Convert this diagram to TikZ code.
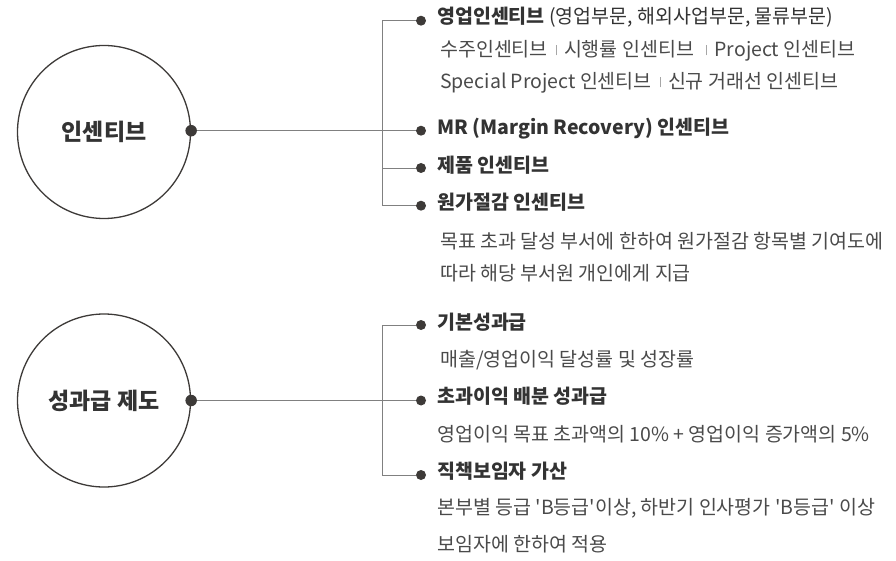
\documentclass[tikz,border=0pt]{standalone}
\usepackage{fontspec}
\setmainfont{Noto Sans CJK KR}
\newfontfamily\subfont{Noto Sans CJK KR}
\definecolor{ink}{HTML}{333333}
\definecolor{subink}{HTML}{4A4A4A}
\definecolor{linegray}{HTML}{808080}
\definecolor{dotgray}{HTML}{3D3A38}
\newcommand{\sepbar}{\hspace{0.4em}{\color{linegray!70}\rule[0.05em]{0.6pt}{0.55em}}\hspace{0.4em}}
\begin{document}
\begin{tikzpicture}[x=1pt,y=-1pt,
  bigcirc/.style={circle,draw=dotgray,line width=1.3pt,minimum size=173pt,inner sep=0pt,
     font=\fontsize{23}{23}\selectfont\bfseries,text=ink},
  head/.style={anchor=west,inner sep=0pt,font=\fontsize{19.5}{19.5}\selectfont\bfseries,text=ink,
     text height=0.8em,text depth=0.15em},
  sub/.style={anchor=west,inner sep=0pt,font=\subfont\fontsize{19.5}{19.5}\selectfont,text=subink,
     text height=0.8em,text depth=0.15em},
  conn/.style={draw=linegray,line width=0.9pt},
  bul/.style={circle,fill=dotgray,inner sep=0pt,minimum size=10pt},
  bigdot/.style={circle,fill=dotgray,inner sep=0pt,minimum size=11.5pt}]
\useasboundingbox (0,0) rectangle (896,561);

% ---------- top group ----------
\node[bigcirc] (c1) at (104,132) {인센티브};
\node[bigdot] (d1) at (c1.east |- 0,130.7) {};
\coordinate (v1t) at (382,20.7);
\coordinate (v1b) at (382,205.7);
\node[bul] (b11) at (421,20.7) {};
\node[bul] (b12) at (421,130.7) {};
\node[bul] (b13) at (421,168) {};
\node[bul] (b14) at (421,205.7) {};
\draw[conn] (b11) -- (v1t) -- (v1b) -- (b14);
\draw[conn] (d1) -- (b12);
\draw[conn] (b13) -- (b13 -| v1t);

\node[head] (h11) at (437,20.5) {영업인센티브 {\mdseries(영업부문, 해외사업부문, 물류부문)}};
\node[sub] (s11) at (440,53) {수주인센티브\sepbar 시행률 인센티브 \sepbar Project 인센티브};
\node[sub] (s12) at (440,85) {Special Project 인센티브\sepbar 신규 거래선 인센티브};
\node[head] (h12) at (437,131) {MR (Margin Recovery) 인센티브};
\node[head] (h13) at (437,169) {제품 인센티브};
\node[head] (h14) at (437,206.5) {원가절감 인센티브};
\node[sub] (s14) at (440,245) {목표 초과 달성 부서에 한하여 원가절감 항목별 기여도에};
\node[sub] (s15) at (440,277) {따라 해당 부서원 개인에게 지급};

% ---------- bottom group ----------
\node[bigcirc] (c2) at (104,400.5) {성과급 제도};
\node[bigdot] (d2) at (c2.east) {};
\coordinate (v2t) at (382,325);
\coordinate (v2b) at (382,475);
\node[bul] (b21) at (421,325) {};
\node[bul] (b22) at (421,400.5) {};
\node[bul] (b23) at (421,475) {};
\draw[conn] (b21) -- (v2t) -- (v2b) -- (b23);
\draw[conn] (d2) -- (b22);

\node[head] (h21) at (437,326.5) {기본성과급};
\node[sub] (s21) at (440,363) {매출/영업이익 달성률 및 성장률};
\node[head] (h22) at (437,400.5) {초과이익 배분 성과급};
\node[sub] (s22) at (437,438) {영업이익 목표 초과액의 10\% + 영업이익 증가액의 5\%};
\node[head] (h23) at (437,475) {직책보임자 가산};
\node[sub] (s23) at (437,511.5) {본부별 등급 'B등급'이상, 하반기 인사평가 'B등급' 이상};
\node[sub] (s24) at (437,548) {보임자에 한하여 적용};
\end{tikzpicture}
\end{document}
